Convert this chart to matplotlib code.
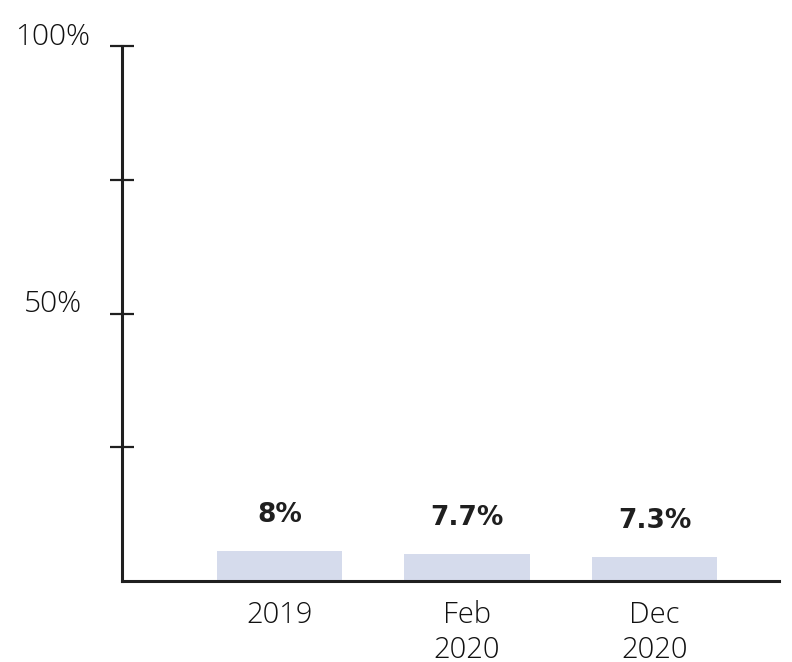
import matplotlib
matplotlib.use("Agg")
import matplotlib.pyplot as plt
import matplotlib.transforms as mtransforms

categories = ["2019", "Feb\n2020", "Dec\n2020"]
bar_values = [5.6, 5.0, 4.5]          # bar heights as drawn (%)
value_labels = ["8%", "7.7%", "7.3%"]  # printed labels
ytick_values = [25, 50, 75, 100]
ytick_labels = ["", "50%", "", "100%"]

fig = plt.figure(figsize=(7.92, 6.62), dpi=100)
ax = fig.add_axes([122/792, 1-581/662, (779-122)/792, (581-46)/662])

x = list(range(len(categories)))
ax.bar(x, bar_values, width=0.667, color="#d5dbec", zorder=2)
ax.set_xlim(-0.84, 2.664)
ax.set_ylim(0, 100)

for s in ["top", "right"]:
    ax.spines[s].set_visible(False)
for s in ["left", "bottom"]:
    ax.spines[s].set_linewidth(2.2)
    ax.spines[s].set_color("#1f1f1f")

ax.set_yticks(ytick_values)
ax.set_yticklabels([])
ax.tick_params(axis="y", direction="inout", length=17, width=1.6, color="#1f1f1f")
ax.set_xticks([])

label_font = dict(family=["Open Sans", "DejaVu Sans"], fontweight="light", color="#111111")
trans = mtransforms.blended_transform_factory(fig.transFigure, ax.transData)
offset = mtransforms.ScaledTranslation(0, 9/100, fig.dpi_scale_trans)
for v, lab in zip(ytick_values, ytick_labels):
    if lab:
        ax.text(53/792, v, lab, transform=trans + offset, ha="center", va="center",
                fontsize=21.5, **label_font)

for xi, cat in zip(x, categories):
    ax.text(xi, -3.6, cat, ha="center", va="top", fontsize=21, linespacing=1.24,
            **label_font)

for xi, v, lab in zip(x, bar_values, value_labels):
    ax.annotate(lab, (xi, v), xytext=(0, 26), textcoords="offset points",
                ha="center", va="center", fontsize=19, fontweight="bold",
                family=["DejaVu Sans"], color="#1f1f1f")

fig.savefig("out.png", dpi=100)
